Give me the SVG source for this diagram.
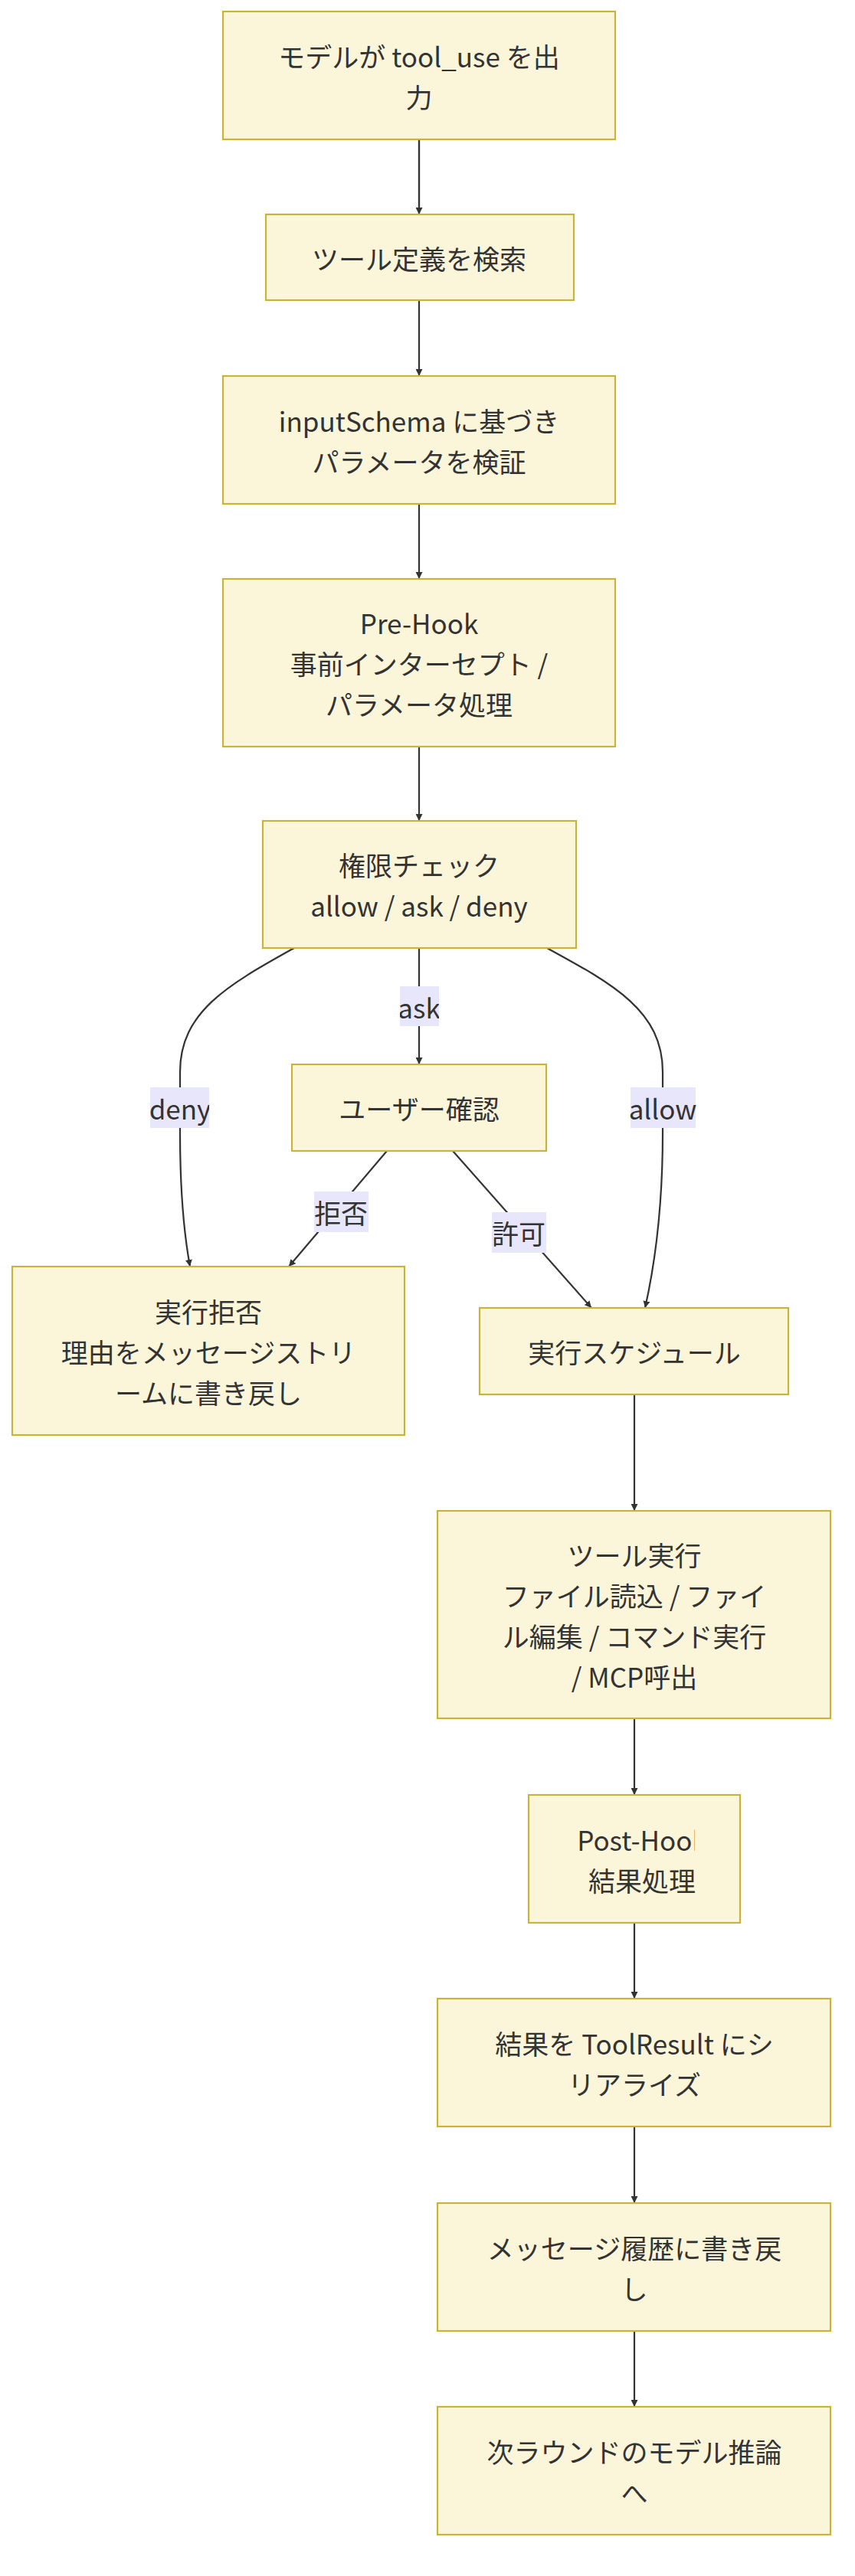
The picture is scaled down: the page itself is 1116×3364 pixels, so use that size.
<svg xmlns="http://www.w3.org/2000/svg" width="1116" height="3364" viewBox="0 0 1116 3364">
<style>
.n{fill:#fbf5d9;stroke:#c9b43a;stroke-width:2.2}
.t{font-family:"Noto Sans CJK JP","Liberation Sans",sans-serif;font-size:35px;fill:#333;text-anchor:middle;dominant-baseline:central}
.e{fill:none;stroke:#333;stroke-width:2.2}
.lb{fill:#e8e6fb}
</style>
<defs>
<marker id="a" viewBox="0 0 10 10" refX="10" refY="5" markerWidth="9" markerHeight="9" markerUnits="userSpaceOnUse" orient="auto"><path d="M0,0L10,5L0,10z" fill="#333"/></marker>
<clipPath id="c5"><rect x="344" y="1072" width="350" height="166"/></clipPath>
<clipPath id="cp"><rect x="690" y="2344" width="217" height="167"/></clipPath>
<clipPath id="cask"><rect x="522" y="1288" width="51" height="52"/></clipPath>
<clipPath id="cdeny"><rect x="196" y="1420" width="77" height="53"/></clipPath>
</defs>
<g id="edges">
<path class="e" d="M547,182V270" marker-end="url(#a)" style="marker-end:none"/>
<path class="e" d="M547,182V280" marker-end="url(#a)"/>
<path class="e" d="M547,392V491" marker-end="url(#a)"/>
<path class="e" d="M547,658V756" marker-end="url(#a)"/>
<path class="e" d="M547,975V1072" marker-end="url(#a)"/>
<path class="e" d="M547,1238V1390" marker-end="url(#a)"/>
<path class="e" d="M384,1238C300,1285 235,1320 235,1400L235,1480C235,1560 240,1610 248,1654" marker-end="url(#a)"/>
<path class="e" d="M714,1238C800,1285 865,1320 865,1400L865,1480C865,1580 855,1650 842,1708" marker-end="url(#a)"/>
<path class="e" d="M505,1503L377,1654" marker-end="url(#a)"/>
<path class="e" d="M591,1503L772,1708" marker-end="url(#a)"/>
<path class="e" d="M828,1821V1973" marker-end="url(#a)"/>
<path class="e" d="M828,2244V2344" marker-end="url(#a)"/>
<path class="e" d="M828,2511V2610" marker-end="url(#a)"/>
<path class="e" d="M828,2777V2877" marker-end="url(#a)"/>
<path class="e" d="M828,3044V3143" marker-end="url(#a)"/>
<rect class="lb" x="522" y="1288" width="51" height="52"/>
<text class="t" x="547" y="1314" clip-path="url(#cask)">ask</text>
<rect class="lb" x="196" y="1420" width="77" height="53"/>
<text class="t" x="235" y="1446" clip-path="url(#cdeny)">deny</text>
<rect class="lb" x="823" y="1420" width="85" height="53"/>
<text class="t" x="865" y="1446">allow</text>
<rect class="lb" x="410" y="1556" width="71" height="53"/>
<text class="t" x="445" y="1582">拒否</text>
<rect class="lb" x="642" y="1583" width="71" height="53"/>
<text class="t" x="677" y="1609">許可</text>
</g>
<g id="n1"><rect class="n" x="291" y="15" width="512" height="167"/><text class="t" x="547" y="72">モデルが tool_use を出</text><text class="t" x="547" y="125">力</text></g>
<g id="n2"><rect class="n" x="347" y="280" width="402" height="112"/><text class="t" x="547" y="336">ツール定義を検索</text></g>
<g id="n3"><rect class="n" x="291" y="491" width="512" height="167"/><text class="t" x="547" y="548">inputSchema に基づき</text><text class="t" x="547" y="601">パラメータを検証</text></g>
<g id="n4"><rect class="n" x="291" y="756" width="512" height="219"/><text class="t" x="547" y="812">Pre-Hook</text><text class="t" x="547" y="865">事前インターセプト /</text><text class="t" x="547" y="918">パラメータ処理</text></g>
<g id="n5"><rect class="n" x="343" y="1072" width="409" height="166"/><text class="t" x="547" y="1128">権限チェック</text><text class="t" x="547" y="1181" clip-path="url(#c5)">allow / ask / deny</text></g>
<g id="n6"><rect class="n" x="381" y="1390" width="332" height="113"/><text class="t" x="547" y="1446">ユーザー確認</text></g>
<g id="n7"><rect class="n" x="16" y="1654" width="512" height="220"/><text class="t" x="272" y="1711">実行拒否</text><text class="t" x="272" y="1764">理由をメッセージストリ</text><text class="t" x="272" y="1817">ームに書き戻し</text></g>
<g id="n8"><rect class="n" x="626" y="1708" width="403" height="113"/><text class="t" x="828" y="1764">実行スケジュール</text></g>
<g id="n9"><rect class="n" x="571" y="1973" width="513" height="271"/><text class="t" x="828" y="2029">ツール実行</text><text class="t" x="828" y="2082">ファイル読込 / ファイ</text><text class="t" x="828" y="2135">ル編集 / コマンド実行</text><text class="t" x="828" y="2188">/ MCP呼出</text></g>
<g id="n10"><rect class="n" x="690" y="2344" width="276" height="167"/><text class="t" x="838" y="2401" clip-path="url(#cp)">Post-Hook</text><text class="t" x="838" y="2454">結果処理</text></g>
<g id="n11"><rect class="n" x="571" y="2610" width="513" height="167"/><text class="t" x="828" y="2667">結果を ToolResult にシ</text><text class="t" x="828" y="2720">リアライズ</text></g>
<g id="n12"><rect class="n" x="571" y="2877" width="513" height="167"/><text class="t" x="828" y="2934">メッセージ履歴に書き戻</text><text class="t" x="828" y="2987">し</text></g>
<g id="n13"><rect class="n" x="571" y="3143" width="513" height="167"/><text class="t" x="828" y="3200">次ラウンドのモデル推論</text><text class="t" x="828" y="3253">へ</text></g>
</svg>
